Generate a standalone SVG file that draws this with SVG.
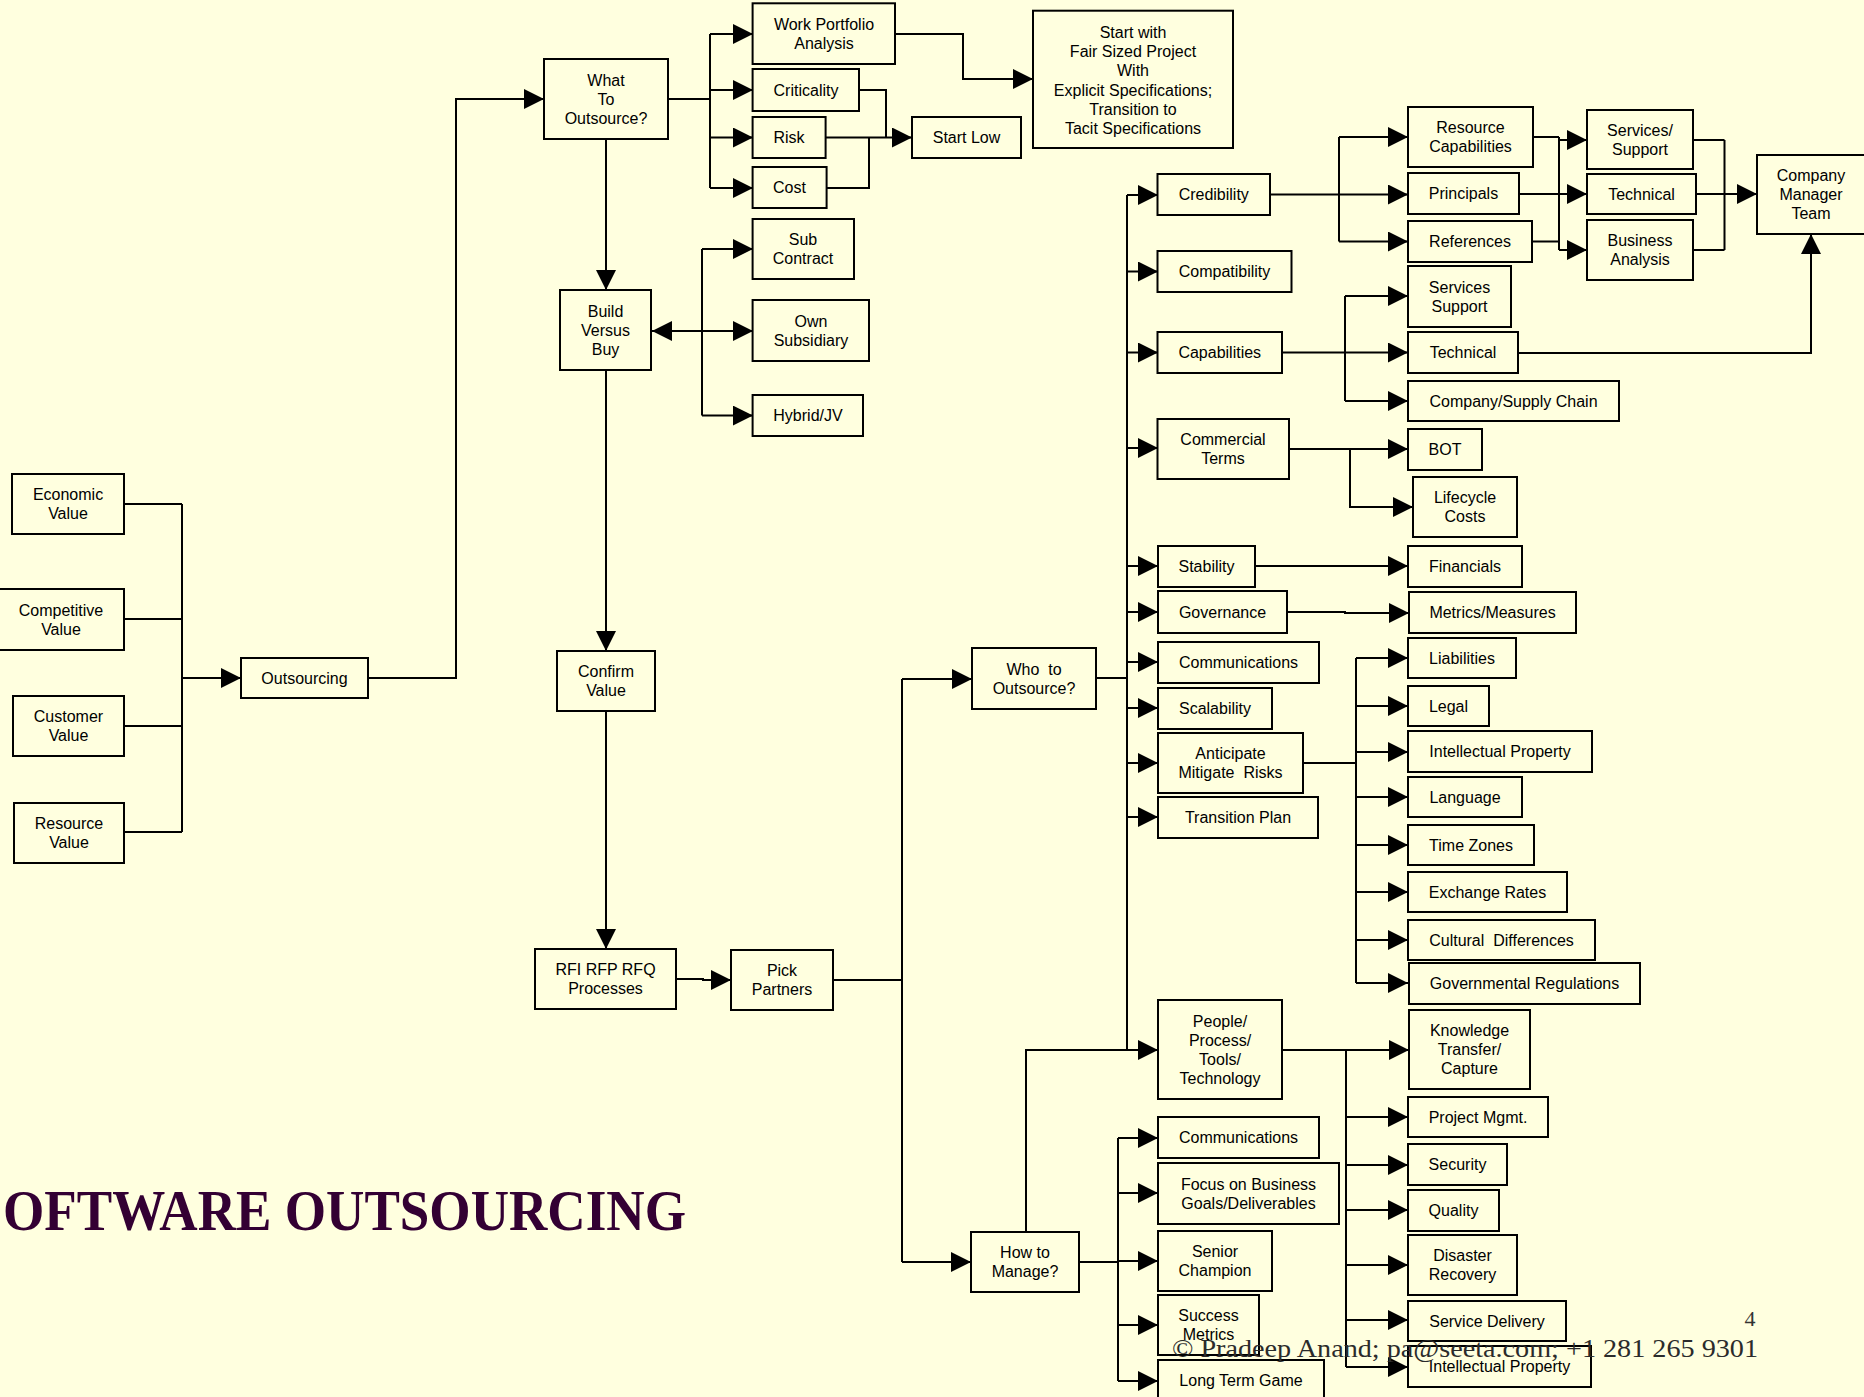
<svg xmlns="http://www.w3.org/2000/svg" width="1864" height="1397" viewBox="0 0 1864 1397">
<defs>
<marker id="ah" markerUnits="userSpaceOnUse" markerWidth="20" markerHeight="20" refX="20" refY="10" orient="auto">
<path d="M0,0 L20,10 L0,20 Z" fill="#000"/>
</marker>
<style>
.box{fill:#FFFFDF;stroke:#000;stroke-width:2}
.lbl{font-family:"Liberation Sans",Arial,sans-serif;font-size:16px;text-anchor:middle;fill:#000;white-space:pre}
.c{fill:none;stroke:#000;stroke-width:2}
.a{marker-end:url(#ah)}
</style>
</defs>
<rect x="0" y="0" width="1864" height="1397" fill="#FFFFDF"/>

<g id="connectors">
<path class="c" d="M124,504 H182 M124,619 H182 M124,726 H182 M124,832 H182 M182,504 V832"/>
<path class="c a" d="M182,678 H241"/>
<path class="c a" d="M368,678 H456 V99 H544"/>
<path class="c a" d="M606,139 V290"/>
<path class="c a" d="M606,370 V651"/>
<path class="c a" d="M606,711 V949"/>
<path class="c a" d="M676,979 H703 V980 H731"/>
<path class="c" d="M833,980 H902 M902,679 V1262"/>
<path class="c a" d="M902,679 H972"/>
<path class="c a" d="M902,1262 H971"/>
<path class="c" d="M668,99 H710 M710,34 V188"/>
<path class="c a" d="M710,34 H753"/>
<path class="c a" d="M710,90 H753"/>
<path class="c a" d="M710,137.5 H753"/>
<path class="c a" d="M710,188 H753"/>
<path class="c" d="M859,90 H886 V137.5 M826.5,188 H869 V137.5"/>
<path class="c a" d="M825.7,137.5 H912"/>
<path class="c a" d="M895,34 H963 V79 H1033"/>
<path class="c" d="M702,249 V415.6"/>
<path class="c a" d="M702,249 H753"/>
<path class="c a" d="M702,331 H753"/>
<path class="c a" d="M702,415.6 H753"/>
<path class="c a" d="M702,331 H652"/>
<path class="c" d="M1096,678 H1127 M1127,195 V1050"/>
<path class="c a" d="M1127,195 H1158"/>
<path class="c a" d="M1127,271.5 H1158"/>
<path class="c a" d="M1127,352.5 H1158"/>
<path class="c a" d="M1127,448 H1158"/>
<path class="c a" d="M1127,566 H1158"/>
<path class="c a" d="M1127,612 H1158"/>
<path class="c a" d="M1127,662 H1158"/>
<path class="c a" d="M1127,708 H1158"/>
<path class="c a" d="M1127,763 H1158"/>
<path class="c a" d="M1127,817 H1158"/>
<path class="c a" d="M1026,1232 V1050 H1158"/>
<path class="c a" d="M1270,194.5 H1408"/>
<path class="c" d="M1339,137 V241.5"/>
<path class="c a" d="M1339,137 H1408"/>
<path class="c a" d="M1339,241.5 H1408"/>
<path class="c" d="M1533,137 H1559 M1532,241.5 H1559 M1559,137 V250"/>
<path class="c a" d="M1559,140 H1587"/>
<path class="c a" d="M1559,250 H1587"/>
<path class="c a" d="M1519,194 H1587"/>
<path class="c" d="M1693,140 H1724.5 M1693,250 H1724.5 M1724.5,140 V250"/>
<path class="c a" d="M1696,194 H1757"/>
<path class="c a" d="M1282,352.5 H1408"/>
<path class="c" d="M1345,296 V401"/>
<path class="c a" d="M1345,296 H1408"/>
<path class="c a" d="M1345,401 H1408"/>
<path class="c a" d="M1518,353 H1811 V234"/>
<path class="c a" d="M1289,449 H1408"/>
<path class="c a" d="M1350,449 V507 H1413"/>
<path class="c a" d="M1255,566 H1408"/>
<path class="c a" d="M1287,612 H1345 V613 H1409"/>
<path class="c" d="M1303,763 H1356 M1356,658 V983"/>
<path class="c a" d="M1356,658 H1408"/>
<path class="c a" d="M1356,706 H1408"/>
<path class="c a" d="M1356,752 H1408"/>
<path class="c a" d="M1356,797 H1408"/>
<path class="c a" d="M1356,845 H1408"/>
<path class="c a" d="M1356,892 H1408"/>
<path class="c a" d="M1356,940 H1408"/>
<path class="c a" d="M1356,983 H1408"/>
<path class="c a" d="M1282,1050 H1409"/>
<path class="c" d="M1346,1050 V1367"/>
<path class="c a" d="M1346,1117 H1408"/>
<path class="c a" d="M1346,1165 H1408"/>
<path class="c a" d="M1346,1210 H1408"/>
<path class="c a" d="M1346,1265 H1408"/>
<path class="c a" d="M1346,1320 H1408"/>
<path class="c a" d="M1346,1367 H1408"/>
<path class="c" d="M1079,1262 H1118 M1118,1138 V1381"/>
<path class="c a" d="M1118,1138 H1158"/>
<path class="c a" d="M1118,1193 H1158"/>
<path class="c a" d="M1118,1261 H1158"/>
<path class="c a" d="M1118,1325 H1158"/>
<path class="c a" d="M1118,1381 H1158"/>
</g>

<g id="economic-value"><rect class="box" x="12" y="474" width="112" height="60"/><text class="lbl" y="500.25"><tspan x="68">Economic</tspan><tspan x="68" dy="19">Value</tspan></text></g>
<g id="competitive-value"><rect class="box" x="-1" y="589" width="125" height="61"/><text class="lbl" y="615.75"><tspan x="61">Competitive</tspan><tspan x="61" dy="19">Value</tspan></text></g>
<g id="customer-value"><rect class="box" x="13" y="696" width="111" height="60"/><text class="lbl" y="722.25"><tspan x="68.5">Customer</tspan><tspan x="68.5" dy="19">Value</tspan></text></g>
<g id="resource-value"><rect class="box" x="14" y="803" width="110" height="60"/><text class="lbl" y="829.25"><tspan x="69">Resource</tspan><tspan x="69" dy="19">Value</tspan></text></g>
<g id="outsourcing"><rect class="box" x="241" y="658" width="127" height="40"/><text class="lbl" x="304.5" y="683.75">Outsourcing</text></g>
<g id="what-to-outsource"><rect class="box" x="544" y="59" width="124" height="80"/><text class="lbl" y="85.75"><tspan x="606">What</tspan><tspan x="606" dy="19">To</tspan><tspan x="606" dy="19">Outsource?</tspan></text></g>
<g id="build-versus-buy"><rect class="box" x="560" y="290" width="91" height="80"/><text class="lbl" y="316.75"><tspan x="605.5">Build</tspan><tspan x="605.5" dy="19">Versus</tspan><tspan x="605.5" dy="19">Buy</tspan></text></g>
<g id="confirm-value"><rect class="box" x="557" y="651" width="98" height="60"/><text class="lbl" y="677.25"><tspan x="606">Confirm</tspan><tspan x="606" dy="19">Value</tspan></text></g>
<g id="rfi-rfp-rfq"><rect class="box" x="535" y="949" width="141" height="60"/><text class="lbl" y="975.25"><tspan x="605.5">RFI RFP RFQ</tspan><tspan x="605.5" dy="19">Processes</tspan></text></g>
<g id="pick-partners"><rect class="box" x="731" y="950" width="102" height="60"/><text class="lbl" y="976.25"><tspan x="782">Pick</tspan><tspan x="782" dy="19">Partners</tspan></text></g>
<g id="who-to-outsource"><rect class="box" x="972" y="648" width="124" height="61"/><text class="lbl" y="674.75"><tspan x="1034">Who  to</tspan><tspan x="1034" dy="19">Outsource?</tspan></text></g>
<g id="how-to-manage"><rect class="box" x="971" y="1232" width="108" height="60"/><text class="lbl" y="1258.25"><tspan x="1025">How to</tspan><tspan x="1025" dy="19">Manage?</tspan></text></g>

<g id="work-portfolio"><rect class="box" x="752.6" y="3.3" width="142.4" height="60.7"/><text class="lbl" y="30"><tspan x="824">Work Portfolio</tspan><tspan x="824" dy="19">Analysis</tspan></text></g>
<g id="criticality"><rect class="box" x="752.6" y="69" width="106.4" height="42"/><text class="lbl" x="806" y="95.75">Criticality</text></g>
<g id="risk"><rect class="box" x="752.6" y="117" width="73" height="41"/><text class="lbl" x="789" y="143.25">Risk</text></g>
<g id="cost"><rect class="box" x="752.6" y="167" width="74" height="41"/><text class="lbl" x="789.5" y="193.25">Cost</text></g>
<g id="start-low"><rect class="box" x="912" y="117" width="109" height="41"/><text class="lbl" x="966.5" y="143.25">Start Low</text></g>
<g id="start-with"><rect class="box" x="1033" y="10.7" width="200" height="137.3"/><text class="lbl" y="37.6"><tspan x="1133">Start with</tspan><tspan x="1133" dy="19.3">Fair Sized Project</tspan><tspan x="1133" dy="19.3">With</tspan><tspan x="1133" dy="19.3">Explicit Specifications;</tspan><tspan x="1133" dy="19.3">Transition to</tspan><tspan x="1133" dy="19.3">Tacit Specifications</tspan></text></g>
<g id="sub-contract"><rect class="box" x="752.6" y="219" width="101.4" height="60"/><text class="lbl" y="245.25"><tspan x="803">Sub</tspan><tspan x="803" dy="19">Contract</tspan></text></g>
<g id="own-subsidiary"><rect class="box" x="752.6" y="300" width="116.4" height="61"/><text class="lbl" y="326.75"><tspan x="811">Own</tspan><tspan x="811" dy="19">Subsidiary</tspan></text></g>
<g id="hybrid-jv"><rect class="box" x="752.6" y="395" width="110.4" height="41"/><text class="lbl" x="808" y="421.25">Hybrid/JV</text></g>

<g id="credibility"><rect class="box" x="1157.5" y="174" width="112.5" height="41"/><text class="lbl" x="1213.75" y="200.25">Credibility</text></g>
<g id="compatibility"><rect class="box" x="1157.5" y="251" width="134" height="41"/><text class="lbl" x="1224.5" y="277.25">Compatibility</text></g>
<g id="capabilities"><rect class="box" x="1157.5" y="332" width="124.5" height="41"/><text class="lbl" x="1219.75" y="358.25">Capabilities</text></g>
<g id="commercial-terms"><rect class="box" x="1157.5" y="419" width="131.5" height="60"/><text class="lbl" y="445.25"><tspan x="1223">Commercial</tspan><tspan x="1223" dy="19">Terms</tspan></text></g>
<g id="resource-capabilities"><rect class="box" x="1408" y="107" width="125" height="60"/><text class="lbl" y="133.25"><tspan x="1470.5">Resource</tspan><tspan x="1470.5" dy="19">Capabilities</tspan></text></g>
<g id="principals"><rect class="box" x="1408" y="173" width="111" height="41"/><text class="lbl" x="1463.5" y="199.25">Principals</text></g>
<g id="references"><rect class="box" x="1408" y="221" width="124" height="41"/><text class="lbl" x="1470" y="247.25">References</text></g>
<g id="services-support-1"><rect class="box" x="1587" y="110" width="106" height="59"/><text class="lbl" y="135.75"><tspan x="1640">Services/</tspan><tspan x="1640" dy="19">Support</tspan></text></g>
<g id="technical-1"><rect class="box" x="1587" y="174" width="109" height="40"/><text class="lbl" x="1641.5" y="199.75">Technical</text></g>
<g id="business-analysis"><rect class="box" x="1587" y="220" width="106" height="60"/><text class="lbl" y="246.25"><tspan x="1640">Business</tspan><tspan x="1640" dy="19">Analysis</tspan></text></g>
<g id="company-manager-team"><rect class="box" x="1757" y="155" width="120" height="79"/><text class="lbl" y="181.25"><tspan x="1811">Company</tspan><tspan x="1811" dy="19">Manager</tspan><tspan x="1811" dy="19">Team</tspan></text></g>
<g id="services-support-2"><rect class="box" x="1408" y="266" width="103" height="61"/><text class="lbl" y="292.75"><tspan x="1459.5">Services</tspan><tspan x="1459.5" dy="19">Support</tspan></text></g>
<g id="technical-2"><rect class="box" x="1408" y="332" width="110" height="41"/><text class="lbl" x="1463" y="358.25">Technical</text></g>
<g id="company-supply-chain"><rect class="box" x="1408" y="381" width="211" height="40"/><text class="lbl" x="1513.5" y="406.75">Company/Supply Chain</text></g>
<g id="bot"><rect class="box" x="1408" y="429" width="74" height="41"/><text class="lbl" x="1445" y="455.25">BOT</text></g>
<g id="lifecycle-costs"><rect class="box" x="1413" y="477" width="104" height="60"/><text class="lbl" y="503.25"><tspan x="1465">Lifecycle</tspan><tspan x="1465" dy="19">Costs</tspan></text></g>

<g id="stability"><rect class="box" x="1158" y="546" width="97" height="41"/><text class="lbl" x="1206.5" y="572.25">Stability</text></g>
<g id="financials"><rect class="box" x="1408" y="546" width="114" height="41"/><text class="lbl" x="1465" y="572.25">Financials</text></g>
<g id="governance"><rect class="box" x="1158" y="591" width="129" height="42"/><text class="lbl" x="1222.5" y="617.75">Governance</text></g>
<g id="metrics-measures"><rect class="box" x="1409" y="592" width="167" height="41"/><text class="lbl" x="1492.5" y="618.25">Metrics/Measures</text></g>
<g id="communications-1"><rect class="box" x="1158" y="642" width="161" height="41"/><text class="lbl" x="1238.5" y="668.25">Communications</text></g>
<g id="scalability"><rect class="box" x="1158" y="688" width="114" height="41"/><text class="lbl" x="1215" y="714.25">Scalability</text></g>
<g id="anticipate-risks"><rect class="box" x="1158" y="733" width="145" height="60"/><text class="lbl" y="759.25"><tspan x="1230.5">Anticipate</tspan><tspan x="1230.5" dy="19">Mitigate  Risks</tspan></text></g>
<g id="transition-plan"><rect class="box" x="1158" y="797" width="160" height="41"/><text class="lbl" x="1238" y="823.25">Transition Plan</text></g>
<g id="liabilities"><rect class="box" x="1408" y="638" width="108" height="40"/><text class="lbl" x="1462" y="663.75">Liabilities</text></g>
<g id="legal"><rect class="box" x="1408" y="686" width="81" height="40"/><text class="lbl" x="1448.5" y="711.75">Legal</text></g>
<g id="intellectual-property-1"><rect class="box" x="1408" y="731" width="184" height="41"/><text class="lbl" x="1500" y="757.25">Intellectual Property</text></g>
<g id="language"><rect class="box" x="1408" y="777" width="114" height="40"/><text class="lbl" x="1465" y="802.75">Language</text></g>
<g id="time-zones"><rect class="box" x="1408" y="825" width="126" height="40"/><text class="lbl" x="1471" y="850.75">Time Zones</text></g>
<g id="exchange-rates"><rect class="box" x="1408" y="872" width="159" height="40"/><text class="lbl" x="1487.5" y="897.75">Exchange Rates</text></g>
<g id="cultural-differences"><rect class="box" x="1408" y="920" width="187" height="40"/><text class="lbl" x="1501.5" y="945.75">Cultural  Differences</text></g>
<g id="governmental-regulations"><rect class="box" x="1409" y="963" width="231" height="41"/><text class="lbl" x="1524.5" y="989.25">Governmental Regulations</text></g>

<g id="people-process"><rect class="box" x="1158" y="1000" width="124" height="99"/><text class="lbl" y="1026.75"><tspan x="1220">People/</tspan><tspan x="1220" dy="19">Process/</tspan><tspan x="1220" dy="19">Tools/</tspan><tspan x="1220" dy="19">Technology</tspan></text></g>
<g id="knowledge-transfer"><rect class="box" x="1409" y="1010" width="121" height="79"/><text class="lbl" y="1036.25"><tspan x="1469.5">Knowledge</tspan><tspan x="1469.5" dy="19">Transfer/</tspan><tspan x="1469.5" dy="19">Capture</tspan></text></g>
<g id="project-mgmt"><rect class="box" x="1408" y="1097" width="140" height="40"/><text class="lbl" x="1478" y="1122.75">Project Mgmt.</text></g>
<g id="security"><rect class="box" x="1408" y="1144" width="99" height="41"/><text class="lbl" x="1457.5" y="1170.25">Security</text></g>
<g id="quality"><rect class="box" x="1408" y="1190" width="91" height="41"/><text class="lbl" x="1453.5" y="1216.25">Quality</text></g>
<g id="disaster-recovery"><rect class="box" x="1408" y="1235" width="109" height="60"/><text class="lbl" y="1261.25"><tspan x="1462.5">Disaster</tspan><tspan x="1462.5" dy="19">Recovery</tspan></text></g>
<g id="service-delivery"><rect class="box" x="1408" y="1301" width="158" height="40"/><text class="lbl" x="1487" y="1326.75">Service Delivery</text></g>
<g id="intellectual-property-2"><rect class="box" x="1408" y="1346" width="183" height="41"/><text class="lbl" x="1499.5" y="1372.25">Intellectual Property</text></g>
<g id="communications-2"><rect class="box" x="1158" y="1117" width="161" height="41"/><text class="lbl" x="1238.5" y="1143.25">Communications</text></g>
<g id="focus-business"><rect class="box" x="1158" y="1163" width="181" height="61"/><text class="lbl" y="1189.75"><tspan x="1248.5">Focus on Business</tspan><tspan x="1248.5" dy="19">Goals/Deliverables</tspan></text></g>
<g id="senior-champion"><rect class="box" x="1158" y="1231" width="114" height="60"/><text class="lbl" y="1257.25"><tspan x="1215">Senior</tspan><tspan x="1215" dy="19">Champion</tspan></text></g>
<g id="success-metrics"><rect class="box" x="1158" y="1295" width="101" height="60"/><text class="lbl" y="1321.25"><tspan x="1208.5">Success</tspan><tspan x="1208.5" dy="19">Metrics</tspan></text></g>
<g id="long-term-game"><rect class="box" x="1158" y="1360" width="166" height="41"/><text class="lbl" x="1241" y="1386.25">Long Term Game</text></g>

<text x="3" y="1230" font-family="'Liberation Serif','Times New Roman',serif" font-weight="bold" font-size="56" fill="#330033" textLength="683" lengthAdjust="spacingAndGlyphs">OFTWARE OUTSOURCING</text>
<text x="1750" y="1326" font-family="'Liberation Serif','Times New Roman',serif" font-size="22" fill="#333" text-anchor="middle">4</text>
<text x="1172" y="1357" font-family="'Liberation Serif','Times New Roman',serif" font-size="26" fill="#2b2b2b" textLength="586" lengthAdjust="spacingAndGlyphs">© Pradeep Anand; pa@seeta.com; +1 281 265 9301</text>
</svg>
